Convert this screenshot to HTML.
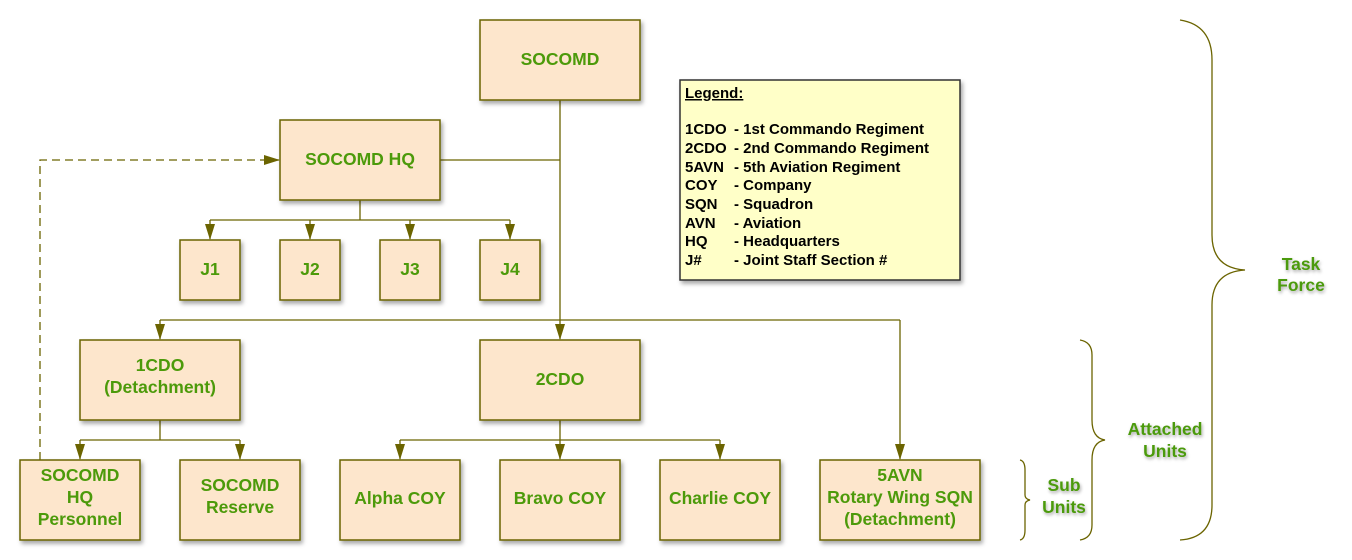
<!DOCTYPE html>
<html><head><style>
body{margin:0;background:#fff;}
svg{display:block;font-family:"Liberation Sans",sans-serif;font-weight:bold;}
.b{fill:#fde6cc;stroke:#6b6400;stroke-width:1.5;filter:url(#sh);}
.t{fill:#4c9a0a;font-size:17.5px;text-anchor:middle;}
.l{stroke:#6b6400;stroke-width:1.3;fill:none;}
.g{fill:#4c9a0a;font-size:17.5px;text-anchor:middle;filter:url(#ts);}
.lg{font-size:15px;fill:#000;}
</style></head><body>
<svg width="1352" height="560" viewBox="0 0 1352 560">
<defs>
<filter id="sh" x="-10%" y="-10%" width="130%" height="130%"><feDropShadow dx="2" dy="3" stdDeviation="2" flood-color="#000" flood-opacity="0.35"/></filter>
<filter id="ts"><feDropShadow dx="1" dy="2" stdDeviation="1.5" flood-color="#000" flood-opacity="0.35"/></filter>
<marker id="a2" markerWidth="16" markerHeight="10" refX="15" refY="5" orient="auto" markerUnits="userSpaceOnUse"><path d="M0,0 L16,5 L0,10z" fill="#6b6400"/></marker>
</defs>
<path class="l" d="M560 100 V339" marker-end="url(#a2)"/>
<path class="l" d="M440 160 H560"/>
<path class="l" d="M360 200 V220 M210 220 H510"/>
<path class="l" d="M210 220 V239" marker-end="url(#a2)"/>
<path class="l" d="M310 220 V239" marker-end="url(#a2)"/>
<path class="l" d="M410 220 V239" marker-end="url(#a2)"/>
<path class="l" d="M510 220 V239" marker-end="url(#a2)"/>
<path class="l" d="M160 320 H900"/>
<path class="l" d="M160 320 V339" marker-end="url(#a2)"/>
<path class="l" d="M900 320 V459" marker-end="url(#a2)"/>
<path class="l" d="M160 420 V440 M80 440 H240"/>
<path class="l" d="M80 440 V459" marker-end="url(#a2)"/>
<path class="l" d="M240 440 V459" marker-end="url(#a2)"/>
<path class="l" d="M560 420 V440 M400 440 H720"/>
<path class="l" d="M400 440 V459" marker-end="url(#a2)"/>
<path class="l" d="M560 440 V459" marker-end="url(#a2)"/>
<path class="l" d="M720 440 V459" marker-end="url(#a2)"/>
<path class="l" d="M40 460 V160 H279" stroke-dasharray="8,5" marker-end="url(#a2)"/>
<rect class="b" x="480" y="20" width="160" height="80"/><text class="t" x="560" y="65">SOCOMD</text>
<rect class="b" x="280" y="120" width="160" height="80"/><text class="t" x="360" y="165">SOCOMD HQ</text>
<rect class="b" x="180" y="240" width="60" height="60"/><text class="t" x="210" y="275">J1</text>
<rect class="b" x="280" y="240" width="60" height="60"/><text class="t" x="310" y="275">J2</text>
<rect class="b" x="380" y="240" width="60" height="60"/><text class="t" x="410" y="275">J3</text>
<rect class="b" x="480" y="240" width="60" height="60"/><text class="t" x="510" y="275">J4</text>
<rect class="b" x="80" y="340" width="160" height="80"/><text class="t" x="160" y="371">1CDO</text><text class="t" x="160" y="393">(Detachment)</text>
<rect class="b" x="480" y="340" width="160" height="80"/><text class="t" x="560" y="385">2CDO</text>
<rect class="b" x="20" y="460" width="120" height="80"/><text class="t" x="80" y="481">SOCOMD</text><text class="t" x="80" y="503">HQ</text><text class="t" x="80" y="525">Personnel</text>
<rect class="b" x="180" y="460" width="120" height="80"/><text class="t" x="240" y="491">SOCOMD</text><text class="t" x="240" y="513">Reserve</text>
<rect class="b" x="340" y="460" width="120" height="80"/><text class="t" x="400" y="504">Alpha COY</text>
<rect class="b" x="500" y="460" width="120" height="80"/><text class="t" x="560" y="504">Bravo COY</text>
<rect class="b" x="660" y="460" width="120" height="80"/><text class="t" x="720" y="504">Charlie COY</text>
<rect class="b" x="820" y="460" width="160" height="80"/><text class="t" x="900" y="481">5AVN</text><text class="t" x="900" y="503">Rotary Wing SQN</text><text class="t" x="900" y="525">(Detachment)</text>
<rect x="680" y="80" width="280" height="200" fill="#ffffc8" stroke="#333" stroke-width="1.5" filter="url(#sh)"/>
<text class="lg" x="685" y="98" text-decoration="underline">Legend:</text>
<g class="lg">
<text x="685" y="134">1CDO</text><text x="734" y="134">- 1st Commando Regiment</text>
<text x="685" y="153">2CDO</text><text x="734" y="153">- 2nd Commando Regiment</text>
<text x="685" y="172">5AVN</text><text x="734" y="172">- 5th Aviation Regiment</text>
<text x="685" y="190">COY</text><text x="734" y="190">- Company</text>
<text x="685" y="209">SQN</text><text x="734" y="209">- Squadron</text>
<text x="685" y="228">AVN</text><text x="734" y="228">- Aviation</text>
<text x="685" y="246">HQ</text><text x="734" y="246">- Headquarters</text>
<text x="685" y="265">J#</text><text x="734" y="265">- Joint Staff Section #</text>
</g>
<path class="l" d="M1180 20 Q1212 25 1212 60 V235 Q1212 268 1245 270 Q1212 272 1212 305 V505 Q1212 538 1180 540"/>
<path class="l" d="M1080 340 Q1092 342 1092 355 V420 Q1092 438 1105 440 Q1092 442 1092 460 V525 Q1092 538 1080 540"/>
<path class="l" d="M1020 460 Q1025 461 1025 470 V495 Q1025 499 1030 500 Q1025 501 1025 505 V530 Q1025 539 1020 540"/>
<text class="g" x="1301" y="270">Task</text><text class="g" x="1301" y="291">Force</text>
<text class="g" x="1165" y="435">Attached</text><text class="g" x="1165" y="457">Units</text>
<text class="g" x="1064" y="491">Sub</text><text class="g" x="1064" y="513">Units</text>
</svg>
</body></html>
